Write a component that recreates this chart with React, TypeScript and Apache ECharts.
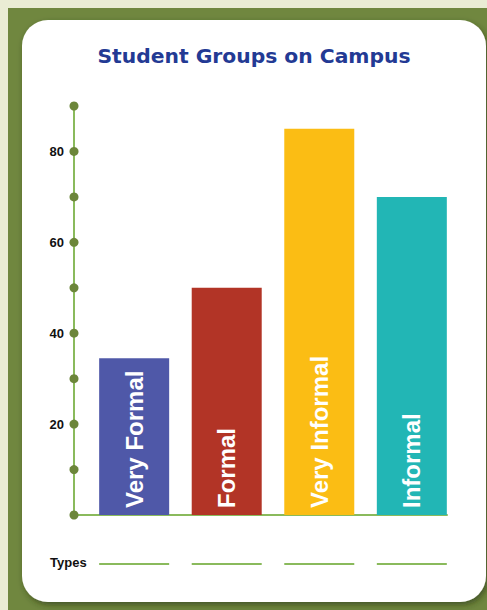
import React, { useEffect, useRef } from "react";
import * as echarts from "echarts";

const categories = ["Very Formal", "Formal", "Very Informal", "Informal"];
const values = [34.5, 50, 85, 70];
const colors = ["#4f58a8", "#b23426", "#fbbd14", "#22b6b5"];
const yTicks = [0, 10, 20, 30, 40, 50, 60, 70, 80, 90];
const yLabels = [20, 40, 60, 80];

const X_MIN = -0.65;
const X_MAX = 3.38;

export default function App() {
  const ref = useRef<HTMLDivElement>(null);
  useEffect(() => {
    document.body.style.margin = "0";
    const chart = echarts.init(ref.current!, undefined, { renderer: "svg" });
    chart.setOption({
      animation: false,
      backgroundColor: "#eaecd4",
      title: {
        text: "Student Groups on Campus",
        left: 249,
        textAlign: "center",
        top: 41,
        textStyle: { color: "#233a94", fontSize: 20.3, fontWeight: "bold", fontFamily: "DejaVu Sans" },
      },
      graphic: [
        { type: "rect", z: -10, shape: { x: 8, y: 8, width: 479, height: 602 }, style: { fill: "#70873f" } },
        {
          type: "rect",
          z: -9,
          shape: { x: 22, y: 20, width: 464, height: 582, r: 26 },
          style: { fill: "#ffffff", shadowBlur: 6, shadowColor: "rgba(40,50,10,0.6)", shadowOffsetX: 2, shadowOffsetY: 3 },
        },
        {
          type: "text",
          x: 50,
          y: 556,
          style: { text: "Types", fill: "#111", fontSize: 13, fontWeight: "bold", fontFamily: "Liberation Sans" },
        },
      ],
      grid: { left: 74, right: 40, top: 106, bottom: 95 },
      xAxis: {
        type: "value",
        min: X_MIN,
        max: X_MAX,
        axisLine: { show: true, onZero: false, lineStyle: { color: "#8aba5c", width: 2 } },
        axisTick: { show: false },
        axisLabel: { show: false },
        splitLine: { show: false },
      },
      yAxis: {
        type: "value",
        min: 0,
        max: 90,
        interval: 10,
        axisLine: { show: true, onZero: false, lineStyle: { color: "#8aba5c", width: 2 } },
        axisTick: { show: false },
        splitLine: { show: false },
        axisLabel: {
          margin: 10,
          color: "#111",
          fontSize: 13,
          fontWeight: "bold",
          fontFamily: "Liberation Sans",
          formatter: (v: number) => (yLabels.includes(v) ? String(v) : ""),
        },
      },
      series: [
        {
          type: "bar",
          barWidth: 70,
          z: 1,
          data: values.map((v, i) => ({
            value: [i, v],
            name: categories[i],
            itemStyle: { color: colors[i] },
          })),
          label: {
            show: true,
            position: "insideBottom",
            rotate: 90,
            align: "left",
            verticalAlign: "middle",
            distance: 7,
            formatter: (p: any) => p.name,
            color: "#fff",
            fontSize: 24,
            fontWeight: "bold",
            fontFamily: "Liberation Sans",
          },
        },
        {
          type: "scatter",
          symbol: "circle",
          symbolSize: 9,
          z: 5,
          itemStyle: { color: "#6c863a", opacity: 1 },
          data: yTicks.map((t) => [X_MIN, t]),
        },
        {
          type: "custom",
          data: categories.map((_, i) => [i, 0]),
          renderItem: (params: any, api: any) => {
            const p = api.coord([api.value(0), 0]);
            return {
              type: "line",
              shape: { x1: p[0] - 35, y1: p[1] + 49, x2: p[0] + 35, y2: p[1] + 49 },
              style: { stroke: "#8aba5c", lineWidth: 2 },
            };
          },
        },
      ],
    });
    return () => chart.dispose();
  }, []);
  return <div ref={ref} style={{ width: 487, height: 610 }} />;
}
